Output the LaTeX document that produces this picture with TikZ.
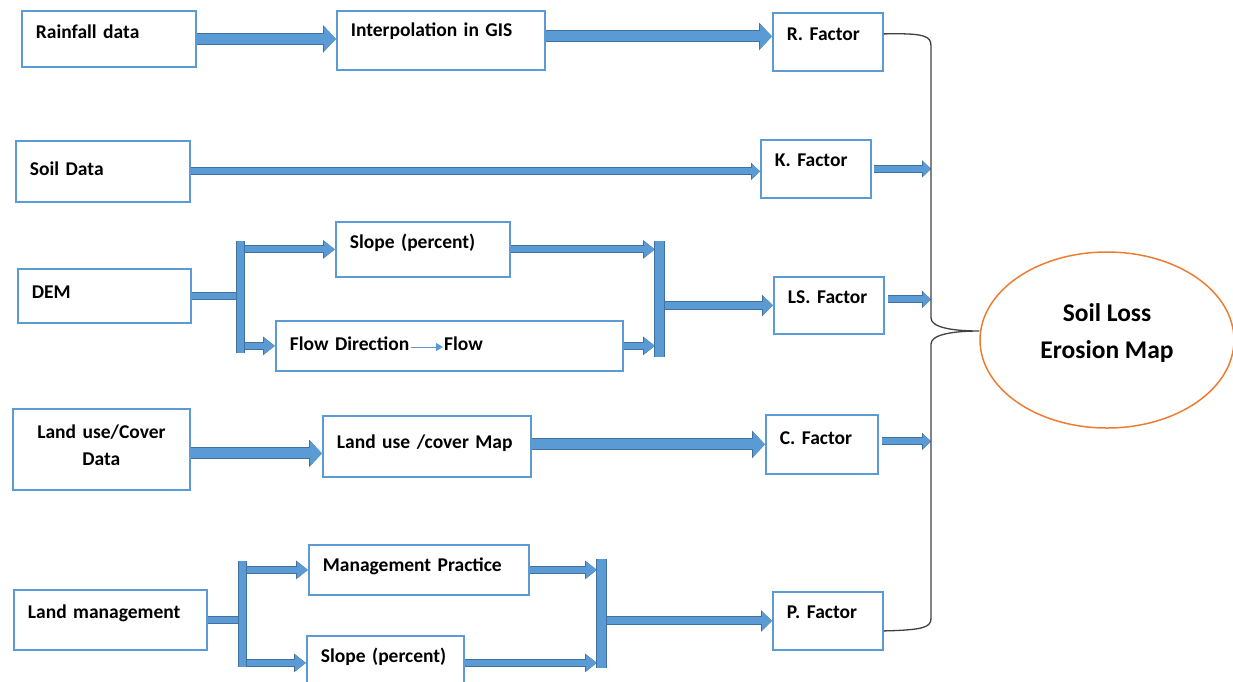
\documentclass[tikz,border=0pt]{standalone}
\usepackage{fontspec}
\setmainfont{Carlito}
\usetikzlibrary{arrows.meta, shapes.geometric}
\definecolor{boxblue}{HTML}{5B9BD5}
\definecolor{arrowblue}{HTML}{5B9BD5}
\definecolor{arrowedge}{HTML}{41719C}
\definecolor{bracegray}{HTML}{404040}
\definecolor{ellorange}{HTML}{ED7D31}

\begin{document}
\begin{tikzpicture}[x=1pt, y=-1pt,
  box/.style n args={3}{draw=boxblue, line width=1.8pt, fill=white, anchor=north west,
              align=left, inner xsep=14pt, inner ysep=0pt,
              font=\bfseries\fontsize{19.5}{27}\selectfont,
              minimum width=#1, text width=#1pt-28pt, minimum height=#2,
              text height=#3pt, text depth=#2pt-#3pt},
  fatarrow/.style={arrowblue, line width=10pt, -{Triangle[length=12pt, width=24pt]},
              preaction={draw=arrowedge, line width=12pt, -{Triangle[length=13pt, width=27pt]}}},
  slimarrow/.style={arrowblue, line width=6pt, -{Triangle[length=8pt, width=14pt]},
              preaction={draw=arrowedge, line width=8pt, -{Triangle[length=9pt, width=17pt]}}},
  brancharrow/.style={arrowblue, line width=6pt, -{Triangle[length=11pt, width=15pt]},
              preaction={draw=arrowedge, line width=8pt, -{Triangle[length=12pt, width=18pt]}}},
  outarrow/.style={arrowblue, line width=7pt, -{Triangle[length=10pt, width=18pt]},
              preaction={draw=arrowedge, line width=9pt, -{Triangle[length=11pt, width=21pt]}}},
  shaft/.style={arrowblue, line width=6pt, preaction={draw=arrowedge, line width=8pt}},
  bar/.style={arrowblue, line width=#1, preaction={draw=arrowedge, line width=#1+2pt}},
  brace/.style={bracegray, line width=1.3pt}]

\useasboundingbox (0,0) rectangle (1233,681);

% input data
\node[box={174}{56}{28}] (rain) at (21,10) {Rainfall data};
\node[box={174}{61}{35}] (soil) at (15,140) {Soil Data};
\node[box={173}{54}{30}] (dem) at (17,268) {DEM};
\node[box={177}{81}{30}, align=center] (lud) at (12,408) {Land use/Cover\\Data};
\node[box={193}{60}{29}] (lm) at (13,589) {Land management};

% processing
\node[box={208}{59}{26}] (interp) at (336,10) {Interpolation in GIS};
\node[box={174}{55}{27}] (slopeA) at (335,221) {Slope (percent)};
\node[box={347}{50}{30}] (flow) at (275,320) {Flow Direction\hspace{35pt}Flow};
\node[box={208}{61}{33}] (lumap) at (322,415) {Land use /cover Map};
\node[box={220}{50}{27}] (mgmt) at (308,544) {Management Practice};
\node[box={157}{54}{27}] (slopeB) at (306,635) {Slope (percent)};

% factors
\node[box={110}{58}{28}] (rf) at (772,12) {R. Factor};
\node[box={110}{58}{27}] (kf) at (760,139) {K. Factor};
\node[box={110}{57}{27}] (ls) at (773,276) {LS. Factor};
\node[box={112}{59}{30}] (cf) at (765,414) {C. Factor};
\node[box={110}{58}{27}] (pf) at (772,591) {P. Factor};

\node[ellipse, draw=ellorange, line width=1.5pt, minimum width=254pt, minimum height=176pt,
      inner sep=0pt, align=center, font=\bfseries\fontsize{25.5}{37}\selectfont,
      text height=52pt, text depth=16pt] (soilloss) at (1107,340) {Soil Loss\\Erosion Map};

\coordinate (demT) at (240,241);
\coordinate (demB) at (240,353);
\coordinate (lsT) at (659,241);
\coordinate (lsB) at (659,357);
\coordinate (lmT) at (242,561);
\coordinate (lmB) at (242,667);
\coordinate (pT) at (601,559);
\coordinate (pB) at (601,668);
\coordinate (bx) at (931,0);
\coordinate (fdA) at (411,347);
\coordinate (fdB) at (443,347);

% straight chains
\draw[fatarrow] (rain.east) -- (rain.east -| interp.west);
\draw[fatarrow] ([yshift=4pt]interp.east) -- ([yshift=4pt]interp.east -| rf.west);
\draw[slimarrow] (soil.east) -- (soil.east -| kf.west);
\draw[fatarrow] ([yshift=-4pt]lud.east) -- ([yshift=-4pt]lud.east -| lumap.west);
\draw[fatarrow] ([yshift=2pt]lumap.east) -- ([yshift=2pt]lumap.east -| cf.west);
\draw[arrowblue, line width=1pt, -{Triangle[length=7pt, width=8pt]}] (fdA) -- (fdB);

% DEM branch
\draw[shaft] (dem.east) -- (dem.east -| demT);
\draw[brancharrow] (demT |- slopeA.west) -- (slopeA.west);
\draw[brancharrow] (demT |- flow.west) -- (flow.west);
\draw[bar=7pt] (demT) -- (demB);
\draw[brancharrow, shorten >=4pt] (slopeA.east) -- (slopeA.east -| lsT);
\draw[brancharrow, shorten >=4pt] (flow.east) -- (flow.east -| lsB);
\draw[outarrow] (lsT |- ls.west) -- (ls.west);
\draw[bar=9pt] (lsT) -- (lsB);

% land management branch
\draw[shaft] (lm.east) -- (lm.east -| lmT);
\draw[brancharrow] (lmT |- mgmt.west) -- (mgmt.west);
\draw[brancharrow] (lmT |- slopeB.west) -- (slopeB.west);
\draw[bar=7pt] (lmT) -- (lmB);
\draw[brancharrow, shorten >=4pt] (mgmt.east) -- (mgmt.east -| pT);
\draw[brancharrow, shorten >=4pt] (slopeB.east) -- (slopeB.east -| pB);
\draw[outarrow] (pT |- pf.west) -- (pf.west);
\draw[bar=9pt] (pT) -- (pB);

% into the brace
\draw[slimarrow, shorten <=2pt] (kf.east) -- (kf.east -| bx);
\draw[slimarrow, shorten <=3pt] ([yshift=6pt]ls.east) -- ([yshift=6pt]ls.east -| bx);
\draw[slimarrow, shorten <=3pt] ([yshift=3pt]cf.east) -- ([yshift=3pt]cf.east -| bx);

\draw[brace] ([yshift=8pt]rf.east) .. controls (925,33) and (931,36) .. (931,46)
  -- (931,318) .. controls (931,328) and (955,331) .. ([yshift=9pt]soilloss.west)
  .. controls (955,331) and (931,334) .. (931,344)
  -- (931,618) .. controls (931,627) and (925,630) .. ([yshift=-10pt]pf.east);

\end{tikzpicture}
\end{document}
